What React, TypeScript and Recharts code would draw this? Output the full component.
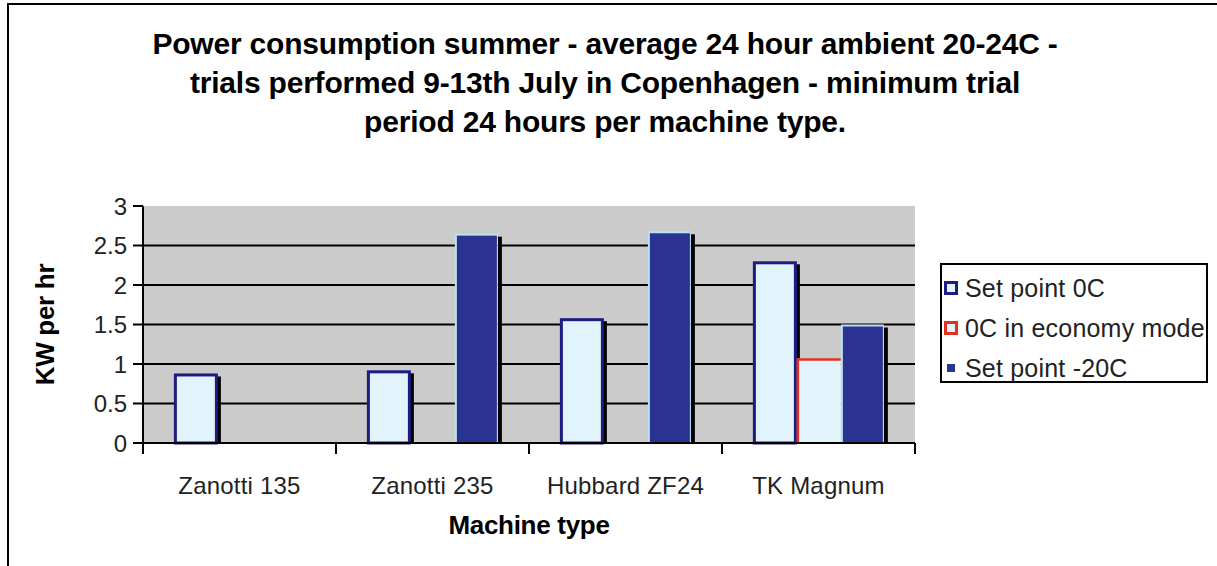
import React from 'react';
import { BarChart, Bar, XAxis, YAxis, CartesianGrid, Legend, Label } from 'recharts';

const machines = ['Zanotti 135', 'Zanotti 235', 'Hubbard ZF24', 'TK Magnum'];
const setPoint0C: (number | null)[] = [0.88, 0.92, 1.58, 2.3];
const economy0C: (number | null)[] = [null, null, null, 1.07];
const setPointMinus20C: (number | null)[] = [null, 2.65, 2.68, 1.5];
const yTicks = [0, 0.5, 1, 1.5, 2, 2.5, 3];
const gridValues = [0.5, 1, 1.5, 2, 2.5];
const seriesNames = ['Set point 0C', '0C in economy mode', 'Set point -20C'];
const titleLines = [
  'Power consumption summer - average 24 hour ambient 20-24C -',
  'trials performed 9-13th July in Copenhagen - minimum trial',
  'period 24 hours per machine type.',
];

const data = machines.map((m, i) => ({
  machine: m,
  sp0: setPoint0C[i],
  eco: economy0C[i],
  sp20: setPointMinus20C[i],
}));

const W = 1217;
const H = 566;
const PLOT_LEFT = 143;
const PLOT_RIGHT = 915;
const PLOT_TOP = 206;
const PLOT_BOTTOM = 443;
const XAXIS_H = 60;
const LEGEND_W = 268;
const LEGEND_H = 120;
const BAND = (PLOT_RIGHT - PLOT_LEFT) / machines.length;

const NAVY = '#1e1b82';
const LIGHT = '#e2f4fb';
const DARK = '#2b3391';
const RED = '#e4301c';
const FONT = '"Liberation Sans", Arial, sans-serif';

const LightShape = (p: any) => {
  const { x, y, width, height } = p;
  if (!height || height <= 0 || p.value == null) return null;
  return (
    <g>
      <rect x={x + width - 1} y={y + 3} width={4} height={height - 3} fill="#000" />
      <rect x={x + 1.5} y={y + 1.5} width={width - 3} height={height - 1.5} fill={LIGHT} stroke={NAVY} strokeWidth={3} />
    </g>
  );
};

const EcoShape = (p: any) => {
  const { x, y, width, height } = p;
  if (!height || height <= 0 || p.value == null) return null;
  return (
    <g>
      <rect x={x} y={y} width={width} height={height} fill={LIGHT} />
      <path d={`M${x + 1},${y + height} L${x + 1},${y + 1} L${x + width},${y + 1}`} fill="none" stroke={RED} strokeWidth={2.5} />
    </g>
  );
};

const DarkShape = (p: any) => {
  const { x, y, width, height } = p;
  if (!height || height <= 0 || p.value == null) return null;
  return (
    <g>
      <rect x={x + width - 1} y={y + 3} width={4} height={height - 3} fill="#000" />
      <rect x={x} y={y} width={width - 1} height={height} fill="#b8e2f4" />
      <rect x={x + 2} y={y + 2} width={width - 4} height={height - 2} fill={DARK} />
    </g>
  );
};

const XTick = (p: any) => {
  const { x, payload, index } = p;
  const y0 = PLOT_BOTTOM;
  return (
    <g>
      <line x1={x - BAND / 2} x2={x - BAND / 2} y1={y0} y2={y0 + 11} stroke="#000" strokeWidth={2} />
      {index === machines.length - 1 && (
        <line x1={x + BAND / 2} x2={x + BAND / 2} y1={y0} y2={y0 + 11} stroke="#000" strokeWidth={2} />
      )}
      <text x={x} y={y0 + 51} textAnchor="middle" fontSize={24} fontFamily={FONT} fill="#222" letterSpacing={0.2}>
        {payload.value}
      </text>
    </g>
  );
};

const LegendContent = () => {
  const markers = [
    <rect x={2.5} y={2.5} width={11} height={11} fill={LIGHT} stroke={NAVY} strokeWidth={3} />,
    <rect x={2.5} y={2.5} width={11} height={11} fill={LIGHT} stroke={RED} strokeWidth={3} />,
    <rect x={4} y={4} width={8} height={8} fill={DARK} />,
  ];
  return (
    <div
      style={{
        width: LEGEND_W,
        height: LEGEND_H,
        border: '2px solid #000',
        boxSizing: 'border-box',
        background: '#fff',
        paddingTop: 3,
        overflow: 'visible',
      }}
    >
      {seriesNames.map((n) => (
        <div key={n} style={{ display: 'flex', alignItems: 'center', height: 40 }}>
          <svg width={16} height={16} style={{ marginLeft: 1, marginRight: 6, flex: 'none' }}>
            {/* marker */}
            {markers[seriesNames.indexOf(n)]}
          </svg>
          <span style={{ fontFamily: FONT, fontSize: 25, color: '#222', letterSpacing: 0.2, whiteSpace: 'nowrap' }}>{n}</span>
        </div>
      ))}
    </div>
  );
};

export default function App() {
  return (
    <div style={{ position: 'absolute', left: 0, top: 0, width: W, height: H, background: '#fff', overflow: 'hidden' }}>
      <div style={{ position: 'absolute', left: 7, top: 3, width: W - 7, height: H - 3, borderTop: '2px solid #000', borderLeft: '2px solid #000', boxSizing: 'border-box' }} />
      <div
        style={{
          position: 'absolute',
          left: 0,
          top: 24,
          width: 1210,
          textAlign: 'center',
          fontFamily: FONT,
          fontWeight: 'bold',
          fontSize: 30,
          lineHeight: '39px',
          letterSpacing: -0.2,
          color: '#000',
        }}
      >
        {titleLines.map((t) => (
          <div key={t}>{t}</div>
        ))}
      </div>
      <div style={{ position: 'absolute', left: 0, top: 0 }}>
        <BarChart
          width={W}
          height={H}
          data={data}
          margin={{ top: PLOT_TOP, right: W - PLOT_RIGHT - LEGEND_W, bottom: H - PLOT_BOTTOM - XAXIS_H, left: 0 }}
          barCategoryGap="16%"
          barGap={0}
        >
          <CartesianGrid
            vertical={false}
            horizontalValues={gridValues}
            stroke="#000"
            strokeWidth={2}
            fill="#cbcbcb"
            fillOpacity={1}
          />
          <XAxis
            dataKey="machine"
            height={XAXIS_H}
            axisLine={{ stroke: '#000', strokeWidth: 2 }}
            tickLine={false}
            tick={<XTick />}
            interval={0}
          >
            <Label
              value="Machine type"
              position="insideBottom"
              offset={-31}
              style={{ fontFamily: FONT, fontWeight: 'bold', fontSize: 26, fill: '#000', letterSpacing: -0.3 }}
            />
          </XAxis>
          <YAxis
            width={PLOT_LEFT}
            domain={[0, 3]}
            ticks={yTicks}
            interval={0}
            axisLine={{ stroke: '#000', strokeWidth: 2 }}
            tickLine={{ stroke: '#000', strokeWidth: 2 }}
            tickSize={10}
            tickMargin={6}
            tick={{ fontFamily: FONT, fontSize: 24, fill: '#222' }}
          >
            <Label
              value="KW per hr"
              angle={-90}
              position="insideLeft"
              offset={45}
              style={{ fontFamily: FONT, fontWeight: 'bold', fontSize: 26, fill: '#000', letterSpacing: -0.3, textAnchor: 'middle' }}
            />
          </YAxis>
          <Legend
            layout="vertical"
            align="right"
            verticalAlign="middle"
            content={<LegendContent />}
            wrapperStyle={{ position: 'absolute', left: 940, top: 263, width: LEGEND_W, height: LEGEND_H }}
          />
          <Bar dataKey="sp0" name={seriesNames[0]} shape={<LightShape />} isAnimationActive={false} />
          <Bar dataKey="eco" name={seriesNames[1]} shape={<EcoShape />} isAnimationActive={false} />
          <Bar dataKey="sp20" name={seriesNames[2]} shape={<DarkShape />} isAnimationActive={false} />
        </BarChart>
      </div>
    </div>
  );
}
